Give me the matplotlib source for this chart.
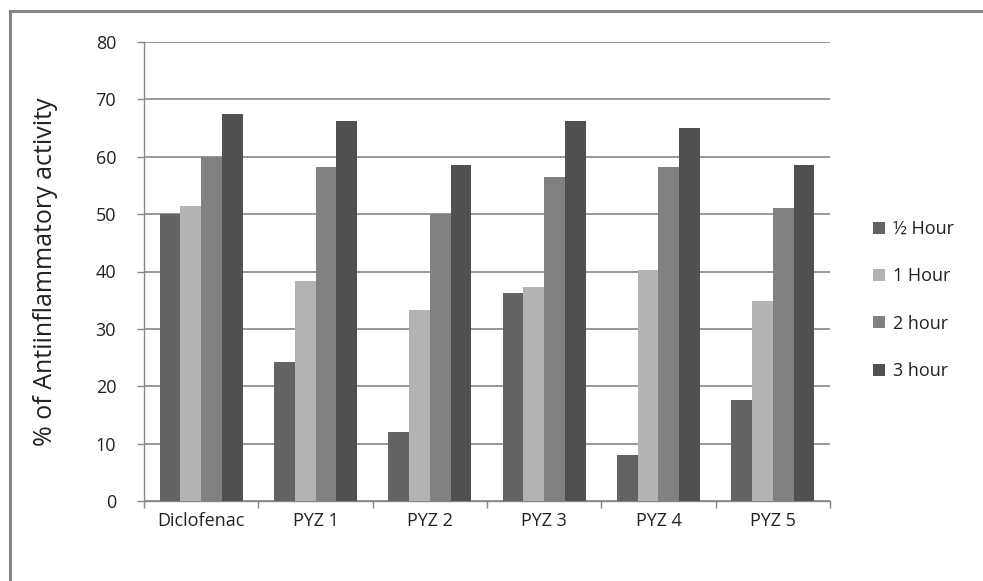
import matplotlib
matplotlib.use("Agg")
import matplotlib.pyplot as plt
from matplotlib.lines import Line2D
from matplotlib.patches import Patch
import numpy as np

categories = ["Diclofenac", "PYZ 1", "PYZ 2", "PYZ 3", "PYZ 4", "PYZ 5"]
series_names = ["½ Hour", "1 Hour", "2 hour", "3 hour"]
half_hour = [50.0, 24.2, 12.0, 36.2, 8.0, 17.6]
one_hour = [51.5, 38.3, 33.3, 37.3, 40.2, 34.8]
two_hour = [60.0, 58.2, 50.0, 56.5, 58.2, 51.0]
three_hour = [67.5, 66.3, 58.5, 66.3, 65.0, 58.5]
colors = ["#636363", "#b3b3b3", "#818181", "#505050"]
y_ticks = [0, 10, 20, 30, 40, 50, 60, 70, 80]

plt.rcParams['font.family'] = ['Open Sans', 'DejaVu Sans']

fig = plt.figure(figsize=(9.83, 5.81), dpi=100)
ax = fig.add_axes([144/983, 1-501/581, (830-144)/983, (501-42)/581])

x = np.arange(len(categories))
bw = 0.181
series = [half_hour, one_hour, two_hour, three_hour]
for i, (vals, c, name) in enumerate(zip(series, colors, series_names)):
    ax.bar(x + (i - 1.5) * bw, vals, width=bw, color=c, label=name, zorder=3)

ax.set_xlim(-0.5, len(categories) - 0.5)
ax.set_ylim(0, 80)
ax.set_yticks(y_ticks)
ax.set_yticklabels([str(v) for v in y_ticks], fontsize=13, color="#222222")
ax.set_xticks(x)
ax.set_xticklabels(categories, fontsize=13, color="#222222")
ax.tick_params(axis='x', length=0, pad=8)
ax.set_xticks(np.arange(-0.5, len(categories)), minor=True)
ax.tick_params(axis='x', which='minor', length=5, color="#868686", width=1)
ax.tick_params(axis='y', length=5, color="#868686", width=1, pad=15)

ax.grid(axis='y', color="#868686", linewidth=1.2, zorder=0)
for s in ['top', 'right']:
    ax.spines[s].set_visible(False)
for s in ['left', 'bottom']:
    ax.spines[s].set_color("#868686")
    ax.spines[s].set_linewidth(1)

ax.set_ylabel("% of Antiinflammatory activity", fontsize=18, color="#222222")
ax.yaxis.set_label_coords(-86/686, 0.5)

handles = [Patch(facecolor=c, edgecolor='none') for c in colors]
leg = fig.legend(handles, series_names, loc='center left', bbox_to_anchor=(857/983, 1-300/581),
                 frameon=False, fontsize=13, handlelength=0.65, handleheight=0.65,
                 labelspacing=1.62, handletextpad=0.45)
for t in leg.get_texts():
    t.set_color("#222222")

# outer frame
fig.add_artist(Line2D([10/983, 10/983], [0, 1-11/581], transform=fig.transFigure, color="#868686", linewidth=2.2))
fig.add_artist(Line2D([10/983, 1], [1-11/581, 1-11/581], transform=fig.transFigure, color="#868686", linewidth=2.2))

fig.savefig("out.png", dpi=100)
